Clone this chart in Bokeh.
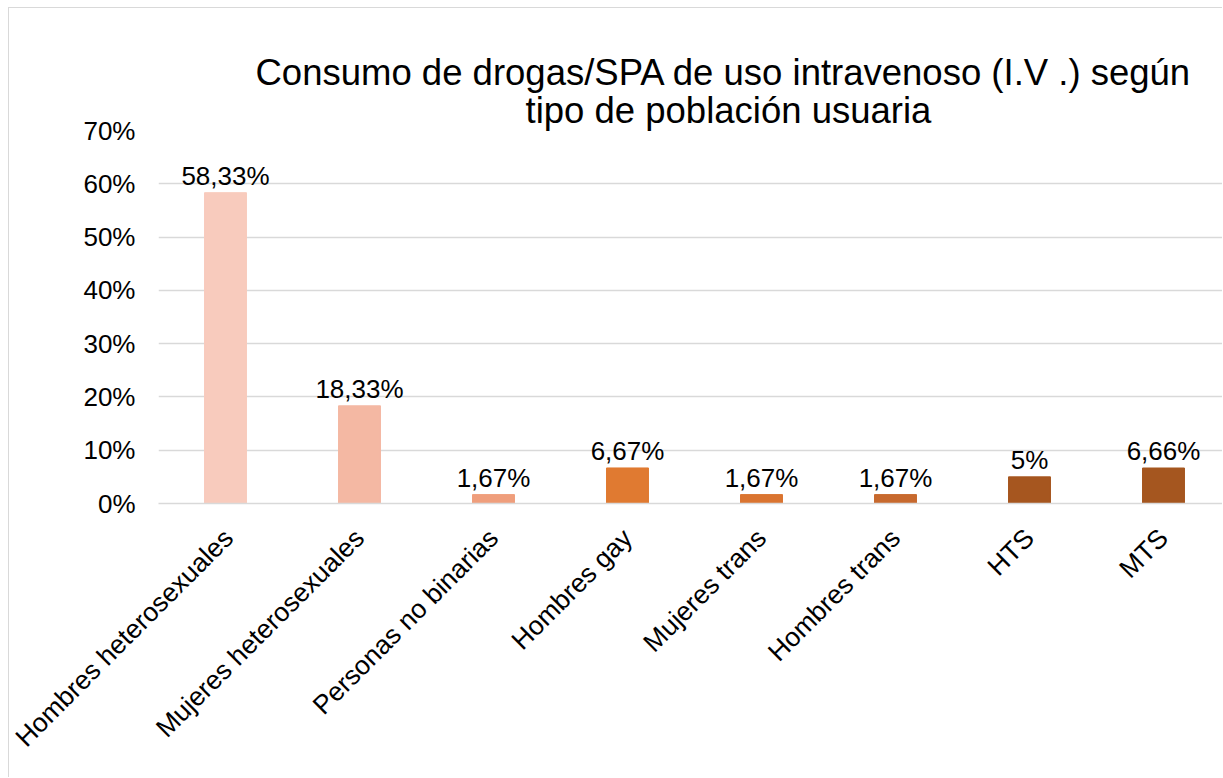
from bokeh.plotting import figure
from bokeh.models import Range1d, FixedTicker, Title, ColumnDataSource
from bokeh.embed import file_html
from bokeh.resources import INLINE
from bokeh.core.properties import value
import math

# ---- data ----
cats = ["Hombres heterosexuales", "Mujeres heterosexuales", "Personas no binarias",
        "Hombres gay", "Mujeres trans", "Hombres trans", "HTS", "MTS"]
values = [58.33, 18.33, 1.67, 6.67, 1.67, 1.67, 5.0, 6.66]
value_labels = ["58,33%", "18,33%", "1,67%", "6,67%", "1,67%", "1,67%", "5%", "6,66%"]
colors = ["#F8CBBD", "#F4B8A3", "#EF9E7C", "#E07A31", "#DA7430", "#C7692E", "#A6561F", "#A5561F"]
yticks = [0, 10, 20, 30, 40, 50, 60, 70]
ytick_labels = ["0%", "10%", "20%", "30%", "40%", "50%", "60%", "70%"]
title_lines = ["Consumo de drogas/SPA de uso intravenoso (I.V .) según",
               "tipo de población usuaria"]

FONT = "Liberation Sans"

xs = [i + 0.5 for i in range(len(cats))]
src = ColumnDataSource(dict(x=xs, top=values, lab=value_labels, color=colors))

W, H = 1214, 770
p = figure(width=W, height=H, output_backend="svg", toolbar_location=None,
           x_range=Range1d(0, 1065 / 134), y_range=Range1d(0, 70),
           min_border_left=149, min_border_right=0, min_border_top=122,
           min_border_bottom=275)
p.outline_line_color = None
p.background_fill_color = "white"
p.border_fill_color = "white"
p.styles = {"margin-left": "8px", "margin-top": "7px",
            "border-left": "1px solid #d9d9d9", "border-top": "1px solid #d9d9d9"}

p.vbar(x="x", top="top", width=0.313, bottom=0, color="color", source=src)

p.text(x="x", y="top", text="lab", source=src, text_align="center",
       text_baseline="alphabetic", y_offset=-17, text_font=value(FONT),
       text_font_size="26px", text_color="#000000")

# axes
p.xgrid.grid_line_color = None
p.ygrid.grid_line_color = "#d9d9d9"
p.ygrid.grid_line_width = 1.5
p.yaxis.ticker = FixedTicker(ticks=yticks)
p.yaxis.major_label_overrides = {t: l for t, l in zip(yticks, ytick_labels)}
p.yaxis.axis_line_color = None
p.yaxis.major_tick_line_color = None
p.yaxis.minor_tick_line_color = None
p.yaxis.major_tick_out = 0
p.yaxis.major_label_standoff = 23
p.yaxis.major_label_text_font = FONT
p.yaxis.major_label_text_font_size = "26px"
p.yaxis.major_label_text_color = "#000000"

p.xaxis.ticker = FixedTicker(ticks=xs)
p.xaxis.major_label_overrides = {x: c for x, c in zip(xs, cats)}
p.xaxis.axis_line_color = "#d9d9d9"
p.xaxis.axis_line_width = 1.5
p.xaxis.major_tick_line_color = None
p.xaxis.minor_tick_line_color = None
p.xaxis.major_tick_out = 0
p.xaxis.major_label_standoff = 30
p.xaxis.major_label_orientation = math.pi / 4
p.xaxis.major_label_text_font = FONT
p.xaxis.major_label_text_font_size = "26.5px"
p.xaxis.major_label_text_color = "#000000"

# title: second line added first (closest to the frame)
p.add_layout(Title(text=title_lines[1], align="left", offset=367, standoff=0,
                   text_font=FONT, text_font_size="36.5px", text_font_style="normal",
                   text_color="#000000"), "above")
p.add_layout(Title(text=title_lines[0], align="left", offset=97, standoff=-11,
                   text_font=FONT, text_font_size="36.5px", text_font_style="normal",
                   text_color="#000000"), "above")

open("out.html", "w").write(file_html(p, INLINE))
